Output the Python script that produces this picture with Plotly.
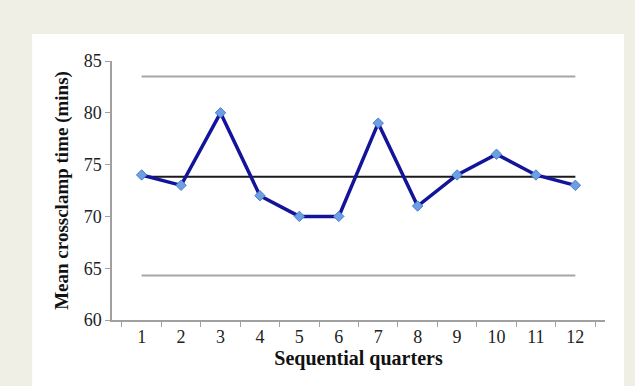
import plotly.graph_objects as go

quarters = ["1", "2", "3", "4", "5", "6", "7", "8", "9", "10", "11", "12"]
crossclamp = [74, 73, 80, 72, 70, 70, 79, 71, 74, 76, 74, 73]
mean_val = sum(crossclamp) / len(crossclamp)
ucl = 83.5
lcl = 64.3

fig = go.Figure()
fig.add_trace(go.Scatter(x=quarters, y=[ucl] * len(quarters), mode="lines",
                         line=dict(color="#a6a6a6", width=2), hoverinfo="skip"))
fig.add_trace(go.Scatter(x=quarters, y=[lcl] * len(quarters), mode="lines",
                         line=dict(color="#a6a6a6", width=2), hoverinfo="skip"))
fig.add_trace(go.Scatter(x=quarters, y=[mean_val] * len(quarters), mode="lines",
                         line=dict(color="#1a1a1a", width=2), hoverinfo="skip"))
fig.add_trace(go.Scatter(x=quarters, y=crossclamp, mode="lines+markers",
                         line=dict(color="#14149a", width=3.5),
                         marker=dict(symbol="diamond", size=8, color="#6e9fe0",
                                     line=dict(color="#4a7fd0", width=1))))

fig.add_shape(type="rect", xref="paper", yref="paper",
              x0=-0.162, x1=1.0385, y0=-0.26, y1=1.104,
              fillcolor="white", line=dict(width=0), layer="below")

font_serif = "Liberation Serif, DejaVu Serif, serif"
fig.update_layout(
    width=635, height=386,
    margin=dict(l=112, r=30, t=61, b=66),
    paper_bgcolor="#efefe6",
    plot_bgcolor="white",
    showlegend=False,
    font=dict(family=font_serif, size=18, color="#222222"),
    xaxis=dict(
        type="category",
        tickson="boundaries",
        ticks="outside", ticklen=5, tickcolor="#a0a0a0",
        showline=True, linecolor="#a0a0a0", linewidth=1.5,
        showgrid=False, zeroline=False,
        tickfont=dict(family=font_serif, size=18, color="#222222"),
        title=dict(text="<b>Sequential quarters</b>", standoff=4,
                   font=dict(family=font_serif, size=20, color="#111111")),
    ),
    yaxis=dict(
        range=[60, 85], dtick=5, tick0=60,
        ticks="outside", ticklen=5, tickcolor="#a0a0a0",
        showline=True, linecolor="#a0a0a0", linewidth=1.5,
        showgrid=False, zeroline=False,
        tickfont=dict(family=font_serif, size=18, color="#222222"),
        title=dict(text="<b>Mean crossclamp time (mins)</b>", standoff=10,
                   font=dict(family=font_serif, size=19, color="#111111")),
    ),
)

fig.write_html("out.html",
               config={"displayModeBar": False},
               post_script="document.body.style.margin='0';document.body.style.background='#efefe6';")
